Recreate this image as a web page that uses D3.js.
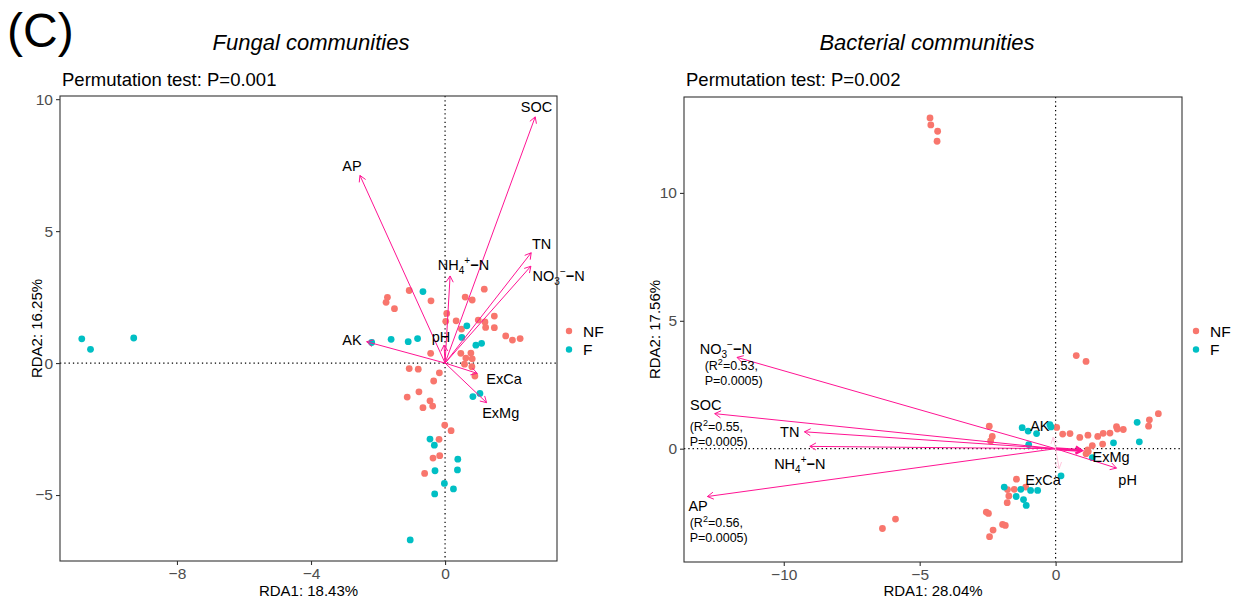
<!DOCTYPE html>
<html><head><meta charset="utf-8">
<script src="https://cdn.jsdelivr.net/npm/d3@7/dist/d3.min.js"></script>
<style>
html,body{margin:0;padding:0;background:#fff;}
svg{display:block;font-family:"Liberation Sans",Arial,sans-serif;}
</style></head>
<body>
<svg id="chart" width="1236" height="603"></svg>
<script>
// ---------------- DATA ----------------
const groups = ["NF", "F"];
const groupColors = ["#F8766D", "#00BFC4"];

// Fungal communities: site scores [RDA1, RDA2]
const fungalNF = [
  [-1.07,2.75],[-1.72,2.49],[-1.76,2.30],[-1.51,2.06],[-0.42,2.36],[1.17,2.80],[0.60,2.50],[0.81,2.39],
  [0.05,1.88],[0.02,1.58],[0.33,1.60],[0.49,1.29],[0.99,1.63],[1.19,1.56],[1.21,1.35],[1.47,1.78],
  [1.47,1.34],[1.81,1.03],[2.01,0.87],[2.24,0.93],[-0.43,0.37],[0.47,0.37],[0.77,0.38],[0.62,0.19],
  [0.81,0.16],[0.58,-0.04],[0.80,-0.14],[0.89,-0.49],[-1.07,-0.21],[-0.80,-0.23],[-0.17,-0.37],[-0.34,-0.68],
  [-0.78,-1.09],[-1.13,-1.29],[-0.45,-1.43],[-0.37,-1.63],[-0.66,-1.69],[-0.01,-2.35],[0.18,-2.56],[-0.18,-2.89],
  [-0.16,-3.51],[-0.36,-3.60],[-0.61,-4.18]
];
const fungalF = [
  [-10.84,0.92],[-10.58,0.52],[-9.29,0.95],[-2.19,0.78],[-1.61,0.90],[-1.10,0.81],[-0.82,0.93],[-0.66,2.71],
  [0.65,1.41],[0.50,0.97],[0.92,0.68],[1.09,0.75],[1.04,-1.15],[0.83,-1.27],[-0.45,-2.88],[-0.32,-3.11],
  [0.38,-3.64],[0.37,-4.05],[-0.30,-4.08],[-0.02,-4.56],[0.25,-4.77],[-0.31,-4.96],[-1.04,-6.70]
];
// Fungal environmental vectors
const fungalVarNames = ["SOC","AP","TN","NO3","NH4","pH","AK","ExCa","ExMg"];
const fungalVarEnds = [[2.69,9.33],[-2.54,7.11],[2.57,4.18],[2.56,3.67],[0.15,3.30],[-0.03,0.68],[-2.34,0.81],[0.96,-0.39],[1.24,-1.50]];
const fungalLabelAt = [[2.73,9.71],[-2.78,7.46],[2.88,4.53],[3.39,3.30],[0.55,3.71],[-0.12,1.00],[-2.78,0.90],[1.76,-0.58],[1.66,-1.88]];

// Bacterial communities
const bacterialNF = [
  [-4.62,12.93],[-4.59,12.66],[-4.34,12.41],[-4.36,12.02],[0.76,3.64],[1.12,3.41],[-2.44,0.88],[-2.33,0.48],
  [-2.39,0.30],[0.04,0.83],[0.26,0.57],[0.53,0.59],[0.89,0.44],[1.19,0.53],[1.55,0.48],[1.75,0.60],
  [2.00,0.61],[2.24,0.86],[2.27,0.77],[2.49,0.75],[1.73,0.18],[1.35,0.12],[3.42,0.88],[3.45,1.13],
  [3.78,1.37],[1.20,-0.11],[1.12,-0.20],[1.18,-0.05],[-1.44,-1.19],[-1.77,-1.60],[-1.52,-1.59],[-1.10,-1.50],
  [-1.72,-1.85],[-1.78,-2.11],[-2.55,-2.48],[-2.47,-2.53],[-1.95,-2.96],[-1.85,-3.00],[-2.30,-3.18],[-2.43,-3.44],
  [-5.89,-2.75],[-6.37,-3.12]
];
const bacterialF = [
  [-1.23,0.82],[-1.01,0.69],[-0.70,0.59],[-0.21,0.94],[-0.17,0.85],[-0.99,0.16],[2.13,0.23],[3.00,1.03],
  [3.08,0.27],[1.35,-0.35],[0.20,-1.06],[-1.89,-1.50],[-1.28,-1.59],[-0.92,-1.63],[-0.66,-1.63],[-1.45,-1.87],
  [-1.18,-1.99],[-1.08,-2.22]
];
const bacterialVarNames = ["NO3","SOC","TN","NH4","AP","ExMg","pH","AK","ExCa"];
const bacterialVarEnds = [[-11.72,3.57],[-12.54,1.37],[-9.24,0.66],[-9.04,0.09],[-12.81,-1.87],[0.96,-0.07],[2.24,-0.76],[-0.09,0.45],[0.13,-0.78]];
const bacterialVarSignif = [true,true,true,true,true,true,true,false,false];
const bacterialLabelAt = [[-12.13,3.91],[-12.87,1.72],[-9.78,0.68],[-9.41,-0.59],[-13.15,-2.22],[2.04,-0.30],[2.65,-1.20],[-0.58,0.88],[-0.46,-1.20]];
// statistics notes (R², P) for selected vectors
const bacterialNoteVars = ["NO3","SOC","AP"];
const bacterialNoteR2 = ["0.53","0.55","0.56"];
const bacterialNoteP = ["0.0005","0.0005","0.0005"];
const bacterialNoteAt = [[-12.91,3.26],[-13.46,0.88],[-13.46,-2.87]];

const panelTitles = ["Fungal communities","Bacterial communities"];
const permTests = ["Permutation test: P=0.001","Permutation test: P=0.002"];
const xTitles = ["RDA1: 18.43%","RDA1: 28.04%"];
const yTitles = ["RDA2: 16.25%","RDA2: 17.56%"];
const fungalXTicks = [-8,-4,0];
const fungalYTicks = [-5,0,5,10];
const bacterialXTicks = [-10,-5,0];
const bacterialYTicks = [0,5,10];

// ---------------- LAYOUT ----------------
const svg = d3.select("#chart");
const ARROW = "#FF1493";
const FAINT = "#FFC6DD";

const panels = [
  {left:60, right:557, top:96, bottom:561, xdom:[-11.49,3.34], ydom:[-7.5,10.12],
   xticks:fungalXTicks, yticks:fungalYTicks, nf:fungalNF, f:fungalF,
   names:fungalVarNames, ends:fungalVarEnds, labels:fungalLabelAt, signif:null,
   titleX:311, legendX:569, yTitleX:37},
  {left:684, right:1182, top:97, bottom:562, xdom:[-13.67,4.65], ydom:[-4.43,13.75],
   xticks:bacterialXTicks, yticks:bacterialYTicks, nf:bacterialNF, f:bacterialF,
   names:bacterialVarNames, ends:bacterialVarEnds, labels:bacterialLabelAt, signif:bacterialVarSignif,
   titleX:927, legendX:1196, yTitleX:655}
];

function richLabel(sel, name, size){
  const sub = Math.round(size*0.72);
  if(name==="NO3"){
    sel.append("tspan").text("NO");
    sel.append("tspan").attr("font-size",sub).attr("dy",4).text("3");
    sel.append("tspan").attr("font-size",sub).attr("dy",-10).text("−");
    sel.append("tspan").attr("dy",6).attr("font-weight","bold").text("−");
    sel.append("tspan").text("N");
  } else if(name==="NH4"){
    sel.append("tspan").text("NH");
    sel.append("tspan").attr("font-size",sub).attr("dy",4).text("4");
    sel.append("tspan").attr("font-size",sub).attr("dy",-10).text("+");
    sel.append("tspan").attr("dy",6).attr("font-weight","bold").text("−");
    sel.append("tspan").text("N");
  } else {
    sel.text(name);
  }
}

// panel label
svg.append("text").attr("x",7).attr("y",47).attr("font-size",48).attr("fill","#000").text("(C)");

panels.forEach((p,i)=>{
  const x = d3.scaleLinear().domain(p.xdom).range([p.left,p.right]);
  const y = d3.scaleLinear().domain(p.ydom).range([p.bottom,p.top]);
  const g = svg.append("g");

  // titles
  svg.append("text").attr("x",p.titleX).attr("y",50).attr("text-anchor","middle")
    .attr("font-size",22).attr("font-style","italic").text(panelTitles[i]);
  svg.append("text").attr("x",p.left+2).attr("y",86).attr("font-size",18.5).text(permTests[i]);

  // zero lines
  g.append("line").attr("x1",x(0)).attr("x2",x(0)).attr("y1",p.top).attr("y2",p.bottom)
    .attr("stroke","#000").attr("stroke-width",1.2).attr("stroke-dasharray","1.3,3");
  g.append("line").attr("x1",p.left).attr("x2",p.right).attr("y1",y(0)).attr("y2",y(0))
    .attr("stroke","#000").attr("stroke-width",1.2).attr("stroke-dasharray","1.3,3");

  // points
  [p.nf,p.f].forEach((arr,gi)=>{
    g.append("g").selectAll("circle").data(arr).join("circle")
      .attr("cx",d=>x(d[0])).attr("cy",d=>y(d[1])).attr("r",3.4)
      .attr("fill",groupColors[gi]);
  });

  // arrows
  const ag = g.append("g");
  p.ends.forEach((e,k)=>{
    const sig = p.signif ? p.signif[k] : true;
    const col = sig ? ARROW : FAINT;
    const x0=x(0), y0=y(0), x1=x(e[0]), y1=y(e[1]);
    const thick = (i===1 && p.names[k]==="ExMg") ? 3 : 1;
    ag.append("line").attr("x1",x0).attr("y1",y0).attr("x2",x1).attr("y2",y1)
      .attr("stroke",col).attr("stroke-width",thick);
    const ang = Math.atan2(y1-y0,x1-x0), L=7, a=Math.PI/6;
    const pts = [[x1-L*Math.cos(ang-a), y1-L*Math.sin(ang-a)],[x1,y1],[x1-L*Math.cos(ang+a), y1-L*Math.sin(ang+a)]];
    ag.append("path").attr("d",d3.line()(pts)).attr("fill","none").attr("stroke",col).attr("stroke-width",Math.max(1,thick*0.8));
  });

  // labels
  p.labels.forEach((l,k)=>{
    const t = g.append("text").attr("x",x(l[0])).attr("y",y(l[1])).attr("dy","0.36em")
      .attr("text-anchor","middle").attr("font-size",14.5).attr("fill","#000");
    richLabel(t, p.names[k], 14.5);
  });

  if(i===1){
    bacterialNoteVars.forEach((v,k)=>{
      const pos = bacterialNoteAt[k];
      const t1 = g.append("text").attr("x",x(pos[0])).attr("y",y(pos[1])).attr("dy","0.36em")
        .attr("font-size",12.5).attr("fill","#000");
      t1.append("tspan").text("(R");
      t1.append("tspan").attr("font-size",9).attr("dy",-5).text("2");
      t1.append("tspan").attr("dy",5).text("="+bacterialNoteR2[k]+",");
      g.append("text").attr("x",x(pos[0])).attr("y",y(pos[1])+15).attr("dy","0.36em")
        .attr("font-size",12.5).attr("fill","#000").text("P="+bacterialNoteP[k]+")");
    });
  }

  // border
  g.append("rect").attr("x",p.left).attr("y",p.top).attr("width",p.right-p.left).attr("height",p.bottom-p.top)
    .attr("fill","none").attr("stroke","#333").attr("stroke-width",1.1);

  // axes
  const xa = g.append("g").attr("transform",`translate(0,${p.bottom})`)
    .call(d3.axisBottom(x).tickValues(p.xticks).tickSize(4).tickPadding(3).tickFormat(d3.format("d")));
  const ya = g.append("g").attr("transform",`translate(${p.left},0)`)
    .call(d3.axisLeft(y).tickValues(p.yticks).tickSize(4).tickPadding(3).tickFormat(d3.format("d")));
  [xa,ya].forEach(a=>{
    a.select(".domain").remove();
    a.selectAll(".tick line").attr("stroke","#333").attr("stroke-width",1.1);
    a.selectAll(".tick text").attr("fill","#4D4D4D").attr("font-size",15.5).attr("font-family","Liberation Sans, Arial, sans-serif");
  });

  // axis titles
  svg.append("text").attr("x",(p.left+p.right)/2).attr("y",596).attr("text-anchor","middle")
    .attr("font-size",15).text(xTitles[i]);
  svg.append("text").attr("transform",`translate(${p.yTitleX},${(p.top+p.bottom)/2}) rotate(-90)`)
    .attr("dy","0.36em").attr("text-anchor","middle").attr("font-size",15).text(yTitles[i]);

  // legend
  groups.forEach((gname,gi)=>{
    const ly = 331 + gi*18.5;
    svg.append("circle").attr("cx",p.legendX).attr("cy",ly).attr("r",3.2).attr("fill",groupColors[gi]);
    svg.append("text").attr("x",p.legendX+14).attr("y",ly).attr("dy","0.36em").attr("font-size",15.5).text(gname);
  });
});
</script>
</body></html>
